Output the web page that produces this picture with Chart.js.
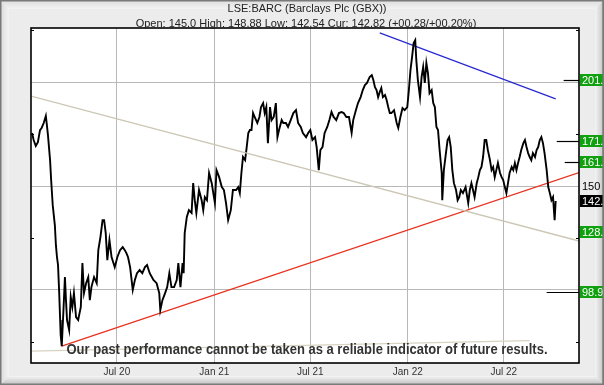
<!DOCTYPE html>
<html><head><meta charset="utf-8">
<script src="https://cdn.jsdelivr.net/npm/chart.js@4/dist/chart.umd.min.js"></script>
<style>html,body{margin:0;padding:0;background:#ececec;overflow:hidden}#wrap{width:604px;height:385px;position:relative}</style>
</head><body><div id="wrap"><canvas id="c" width="604" height="385"></canvas></div>
<script>
const titleText = "LSE:BARC (Barclays Plc (GBX))";
const subtitleText = "Open: 145.0 High: 148.88 Low: 142.54 Cur: 142.82 (+00.28/+00.20%)";
const footerText = "Our past performance cannot be taken as a reliable indicator of future results.";

// x values are days counted from 1 Jan 2020
const xTickDays = [182, 366, 547, 731, 912];
const xTickLabels = ["Jul 20", "Jan 21", "Jul 21", "Jan 22", "Jul 22"];
const yGridValues = [100, 150, 200];
const yMinorValues = [75, 125, 175, 225];

const days = [22,25,29,33,37,40,44,48,50,52,56,58,61,65,67,69,71,73,75,76,78,
81,84,86,88,92,95,98,101,105,109,114,117,120,124,128,131,134,139,144,147,151,155,158,161,164,168,172,178,183,
188,193,197,200,203,207,212,216,220,225,230,235,239,244,251,257,262,264,268,273,277,281,285,290,295,298,302,306,308,310,314,318,323,326,329,332,337,342,345,348,352,356,361,364,367,370,375,
380,384,388,392,397,401,407,411,414,417,420,424,427,430,433,436,439,442,447,451,454,458,461,464,467,471,474,478,482,485,488,493,496,501,505,510,515,520,524,529,533,539,543,547,551,556,559,563,566,570,574,579,583,587,591,596,601,606,610,615,620,625,628,633,637,642,646,650,654,659,663,666,669,672,675,678,681,684,688,691,694,697,700,705,710,713,717,721,725,730,
733,736,739,742,745,747,750,754,757,760,763,766,769,772,776,779,782,785,788,791,795,796,799,802,806,809,812,815,818,822,825,828,831,835,840,845,848,851,854,857,861,864,867,870,873,876,879,882,886,889,892,895,898,901,905,908,911,914,917,920,923,927,930,933,936,939,942,945,949,952,955,958,961,964,967,971,974,977,980,983,986,989,993,996,999,1002,1005,1008,1010];

const prices = [175.6,172.2,169.3,171.2,177.0,178.0,180.4,183.8,179.4,174.6,162.5,152.9,140.8,131.2,121.5,115.8,111.9,99.9,85.4,78.2,72.8,
88.8,106.1,95.0,85.4,80.6,96.5,91.7,98.4,86.8,85.4,91.7,112.9,98.4,103.2,106.1,95.0,101.3,106.1,103.2,119.1,125.4,133.6,133.6,127.3,114.3,124.0,115.8,110.9,115.8,
119.1,120.6,119.1,117.7,115.8,110.9,99.9,104.7,108.0,109.5,108.0,110.9,111.9,108.0,104.7,103.2,98.4,90.2,95.0,98.4,101.3,108.0,101.3,101.3,104.7,112.9,101.3,112.9,108.0,127.3,135.1,138.4,137.0,151.4,143.2,137.0,148.1,143.2,138.4,144.7,143.2,156.3,151.4,146.6,141.8,157.7,154.3,
149.5,148.1,141.8,133.6,138.4,148.1,148.1,149.5,146.6,156.3,164.0,162.5,168.8,175.6,177.0,177.0,185.2,183.3,180.4,183.3,188.1,190.0,185.2,188.1,170.7,188.1,181.8,183.3,190.0,173.6,177.0,181.8,180.4,180.4,178.5,181.8,185.2,186.6,180.4,178.5,175.6,173.6,175.6,177.0,172.2,173.6,168.8,157.7,167.4,168.8,175.6,178.5,181.8,185.7,183.3,181.8,185.2,185.7,185.2,183.3,183.3,175.6,181.8,186.6,190.0,192.9,196.3,198.7,199.7,202.6,203.5,201.1,197.7,196.3,192.9,195.3,197.3,192.9,193.9,191.5,188.1,185.2,185.2,186.6,180.4,178.0,183.3,187.6,186.6,188.1,
196.3,205.9,212.2,219.0,220.4,210.8,201.1,192.9,202.6,207.4,199.7,209.3,204.5,194.8,196.3,190.0,188.1,178.5,177.0,167.4,156.3,143.2,157.7,164.0,172.2,173.6,168.8,157.7,151.4,148.1,143.2,144.7,148.1,146.6,149.5,141.8,148.1,151.4,148.1,144.7,151.4,154.3,157.7,159.2,164.0,172.2,172.2,167.4,162.5,157.7,159.2,154.3,157.7,161.1,156.3,154.3,152.9,149.5,146.6,151.4,156.3,159.2,157.7,161.1,157.7,161.1,164.0,167.4,170.7,172.2,168.8,165.9,164.0,162.5,165.9,164.0,167.4,168.8,172.2,173.6,170.7,165.9,157.7,149.5,146.6,143.2,144.7,133.6,142.8];

// trend lines: [start, end]
const redTrendDays = [78, 1054];
const redTrendPrices = [72.8, 156.5];
const blueTrendDays = [678, 1010];
const blueTrendPrices = [223.8, 192.0];
const tanTrendDays = [20, 1054];
const tanTrendPrices = [193.4, 123.5];
const lowTrendDays = [20, 961];
const lowTrendPrices = [70.4, 75.5];

// right-hand level labels
const levelValues = [201.1, 171.7, 161.6, 150, 142.82, 128, 98.9];
const levelLabels = ["201.", "171.", "161.", "150", "142.", "128.", "98.9"];
const levelKinds = ["green", "green", "green", "plain", "black", "green", "green"];
const levelLineStartDays = [1025, 1012, 1027, null, null, null, 993];

const FONT = "'Liberation Sans', Arial, sans-serif";

const pairs = (xs, ys) => xs.map((x, i) => ({x: x, y: ys[i]}));

const framePlugin = {
  id: 'frame',
  beforeDraw(chart) {
    const ctx = chart.ctx, W = chart.width, H = chart.height, a = chart.chartArea;
    const b = 9;
    ctx.save();
    ctx.fillStyle = '#ececec';
    ctx.fillRect(0, 0, W, H);
    let g;
    g = ctx.createLinearGradient(0, 0, 0, b); g.addColorStop(0, '#dcdcdc'); g.addColorStop(1, '#f3f3f3');
    ctx.fillStyle = g; ctx.beginPath(); ctx.moveTo(0,0); ctx.lineTo(W,0); ctx.lineTo(W-b,b); ctx.lineTo(b,b); ctx.closePath(); ctx.fill();
    g = ctx.createLinearGradient(0, 0, b, 0); g.addColorStop(0, '#dadada'); g.addColorStop(1, '#f3f3f3');
    ctx.fillStyle = g; ctx.beginPath(); ctx.moveTo(0,0); ctx.lineTo(b,b); ctx.lineTo(b,H-b); ctx.lineTo(0,H); ctx.closePath(); ctx.fill();
    g = ctx.createLinearGradient(W-b, 0, W, 0); g.addColorStop(0, '#f4f4f4'); g.addColorStop(1, '#c2c2c2');
    ctx.fillStyle = g; ctx.beginPath(); ctx.moveTo(W,0); ctx.lineTo(W,H); ctx.lineTo(W-b,H-b); ctx.lineTo(W-b,b); ctx.closePath(); ctx.fill();
    g = ctx.createLinearGradient(0, H-b, 0, H); g.addColorStop(0, '#f4f4f4'); g.addColorStop(1, '#bebebe');
    ctx.fillStyle = g; ctx.beginPath(); ctx.moveTo(0,H); ctx.lineTo(W,H); ctx.lineTo(W-b,H-b); ctx.lineTo(b,H-b); ctx.closePath(); ctx.fill();
    ctx.strokeStyle = '#7a7a7a'; ctx.lineWidth = 1.5;
    ctx.strokeRect(0.75, 0.75, W-1.5, H-1.5);
    ctx.fillStyle = '#ffffff';
    ctx.fillRect(a.left, a.top, a.right - a.left, a.bottom - a.top);
    ctx.restore();
  },
  afterDatasetsDraw(chart) {
    const ctx = chart.ctx, a = chart.chartArea, xs = chart.scales.x, ys = chart.scales.y;
    ctx.save();
    ctx.font = "bold 15px 'Liberation Sans Narrow', 'Liberation Sans', Arial, sans-serif";
    ctx.fillStyle = '#333333';
    ctx.textAlign = 'center'; ctx.textBaseline = 'middle';
    const tw = ctx.measureText(footerText).width;
    const target = 481;
    ctx.translate(307, 350);
    ctx.scale(target / tw, 1);
    ctx.fillText(footerText, 0, 0);
    ctx.restore();

    ctx.save();
    ctx.strokeStyle = '#000'; ctx.lineWidth = 1.6;
    ctx.strokeRect(a.left, a.top, a.right - a.left, a.bottom - a.top);
    ctx.lineWidth = 1;
    yMinorValues.forEach(v => {
      const y = Math.round(ys.getPixelForValue(v)) + 0.5;
      ctx.beginPath(); ctx.moveTo(a.left, y); ctx.lineTo(a.left + 3, y); ctx.stroke();
      ctx.beginPath(); ctx.moveTo(a.right - 3, y); ctx.lineTo(a.right, y); ctx.stroke();
    });
    ctx.lineWidth = 1.2;
    levelValues.forEach((v, i) => {
      if (levelLineStartDays[i] == null) return;
      const y = Math.round(ys.getPixelForValue(v)) + 0.5;
      ctx.beginPath(); ctx.moveTo(xs.getPixelForValue(levelLineStartDays[i]), y); ctx.lineTo(a.right, y); ctx.stroke();
    });
    ctx.restore();
  },
  afterDraw(chart) {
    const ctx = chart.ctx, a = chart.chartArea, ys = chart.scales.y, W = chart.width;
    ctx.save();
    ctx.fillStyle = '#222';
    ctx.textAlign = 'center'; ctx.textBaseline = 'middle';
    ctx.font = "11px " + FONT;
    ctx.fillText(titleText, 307, 9);
    ctx.fillText(subtitleText, 306, 23.5);
    ctx.font = "11px " + FONT;
    ctx.textAlign = 'left';
    levelValues.forEach((v, i) => {
      const y = Math.round(ys.getPixelForValue(v));
      const kind = levelKinds[i];
      if (kind === 'green') { ctx.fillStyle = '#10a010'; ctx.fillRect(a.right + 1, y - 6, W - a.right, 12); ctx.fillStyle = '#ffffff'; }
      else if (kind === 'black') { ctx.fillStyle = '#000000'; ctx.fillRect(a.right + 1, y - 6, W - a.right, 12); ctx.fillStyle = '#ffffff'; }
      else { ctx.fillStyle = '#000000'; }
      ctx.fillText(levelLabels[i], a.right + 3, y + 0.5);
    });
    ctx.strokeStyle = '#7a7a7a'; ctx.lineWidth = 1.5;
    ctx.beginPath(); ctx.moveTo(W - 0.75, 0); ctx.lineTo(W - 0.75, chart.height); ctx.stroke();
    ctx.restore();
  }
};

const lineDs = (label, xs, ys, color, width) => ({
  label: label, data: pairs(xs, ys), borderColor: color, borderWidth: width,
  pointRadius: 0, tension: 0, fill: false
});

new Chart(document.getElementById('c'), {
  type: 'line',
  data: {
    datasets: [
      lineDs('low trend', lowTrendDays, lowTrendPrices, '#d6d3c0', 1.3),
      lineDs('tan trend', tanTrendDays, tanTrendPrices, '#cbc7b4', 1.3),
      lineDs('BARC', days, prices, '#000000', 1.9),
      lineDs('red trend', redTrendDays, redTrendPrices, '#e8321e', 1.3),
      lineDs('blue trend', blueTrendDays, blueTrendPrices, '#2a2ad0', 1.3)
    ]
  },
  options: {
    responsive: false,
    animation: false,
    devicePixelRatio: 1,
    layout: { padding: { left: 31, top: 28, right: 25, bottom: 4 } },
    plugins: { legend: { display: false }, tooltip: { enabled: false } },
    scales: {
      x: {
        type: 'linear', min: 20, max: 1054,
        afterBuildTicks: s => { s.ticks = xTickDays.map(v => ({ value: v })); },
        ticks: {
          autoSkip: false, maxRotation: 0, padding: 3, color: '#333',
          font: { family: "'Liberation Sans', Arial, sans-serif", size: 10 },
          callback: (v, i) => xTickLabels[i]
        },
        grid: { color: '#b8b8b8', lineWidth: 1, drawTicks: false },
        border: { display: false }
      },
      y: {
        type: 'linear', position: 'right', min: 64.7, max: 226.2,
        afterBuildTicks: s => { s.ticks = yGridValues.map(v => ({ value: v })); },
        ticks: { display: false },
        grid: { color: '#b8b8b8', lineWidth: 1, drawTicks: false },
        border: { display: false }
      }
    }
  },
  plugins: [framePlugin]
});
</script>
</body></html>
